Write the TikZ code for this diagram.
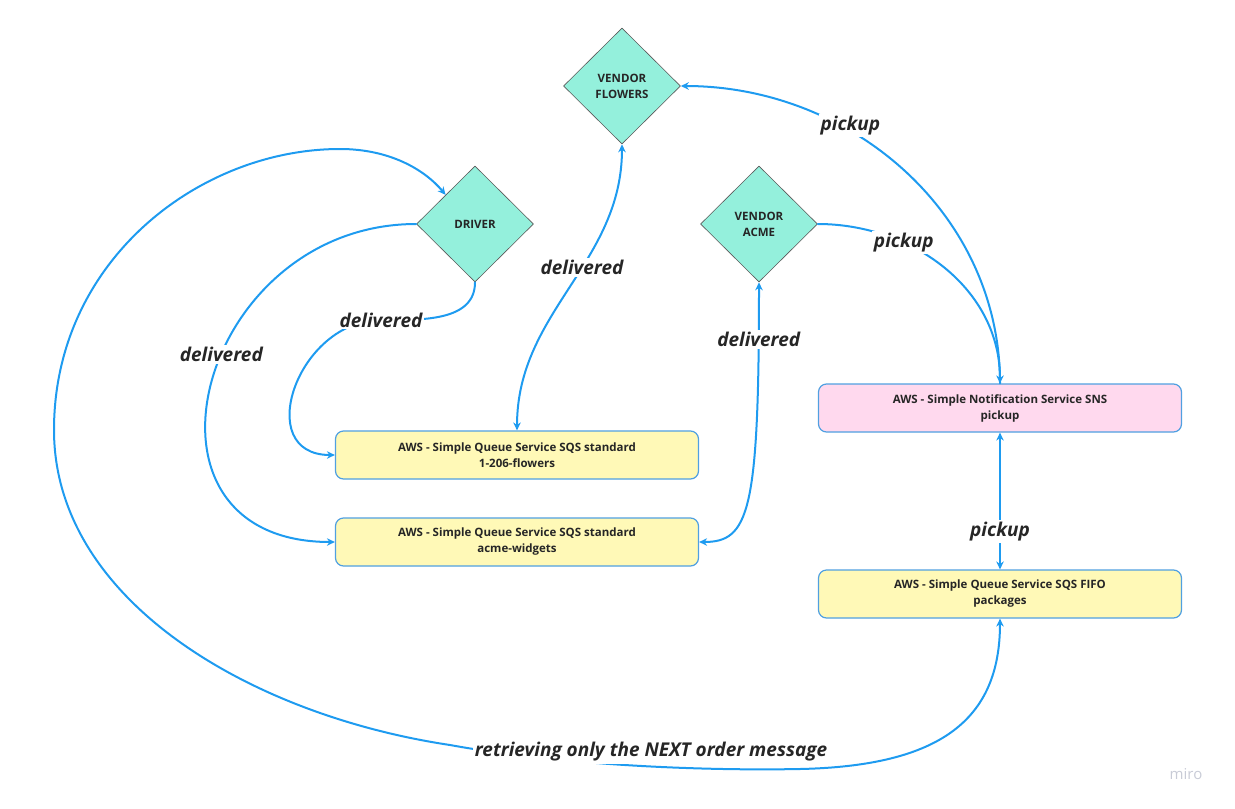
\documentclass[tikz,border=0pt]{standalone}
\usepackage{fontspec}
\setmainfont{Open Sans}
\usetikzlibrary{shapes.geometric,arrows.meta,positioning}
\definecolor{linkblue}{RGB}{30,155,240}
\definecolor{vendorgreen}{RGB}{148,240,220}
\definecolor{queueyellow}{RGB}{255,249,183}
\definecolor{snspink}{RGB}{255,217,238}
\definecolor{boxline}{RGB}{80,160,225}
\definecolor{inkgray}{RGB}{38,38,38}
\definecolor{mirogray}{RGB}{200,203,214}
\tikzset{
  actor/.style={diamond,draw=gray!70!black,line width=0.6,fill=vendorgreen,minimum width=117,minimum height=116,inner sep=0pt,align=center,text=inkgray,font=\fontsize{11.5}{16}\selectfont\bfseries},
  service/.style={rectangle,rounded corners=8,draw=boxline,line width=1.2,minimum width=363,minimum height=48,align=center,text=inkgray,font=\fontsize{11.5}{16}\selectfont\bfseries},
  link/.style={draw=linkblue,line width=2},
  lbl/.style={fill=white,inner sep=2pt,text=inkgray,font=\fontsize{19}{22}\selectfont\bfseries\itshape}
}
\begin{document}
\begin{tikzpicture}[x=1pt,y=1pt,>={Stealth[length=8pt,width=7.5pt]},line join=round,line cap=round]
\useasboundingbox (0,0) rectangle (1235,-809);
% actors
\node[actor] (flowers) at (622,-86) {VENDOR\\FLOWERS};
\node[actor] (driver) at (475,-224) {DRIVER};
\node[actor] (acme) at (759,-224) {VENDOR\\ACME};
% queues and topic
\node[service,fill=queueyellow] (qflowers) at (517,-455) {AWS - Simple Queue Service SQS standard\\1-206-flowers};
\node[service,fill=queueyellow] (qwidgets) at (517,-542) {AWS - Simple Queue Service SQS standard\\acme-widgets};
\node[service,fill=snspink] (sns) at (1000,-408) {AWS - Simple Notification Service SNS\\pickup};
\node[service,fill=queueyellow] (fifo) at (1000,-594) {AWS - Simple Queue Service SQS FIFO\\packages};
% pickup
\draw[link,->] (sns.north) to[out=90,in=0] node[lbl,pos=0.64,yshift=6]{pickup} (flowers.east);
\draw[link,->] (acme.east) to[out=0,in=90] node[lbl,pos=0.32]{pickup} (sns.north);
\draw[link,<->] (sns.south) -- node[lbl,pos=0.72]{pickup} (fifo.north);
% delivered
\draw[link,<->] (flowers.south) to[out=-90,in=90] node[lbl,pos=0.42]{delivered} (qflowers.north);
\draw[link,<->] (acme.south) .. controls +(0,-230) and +(50,0) .. node[lbl,pos=0.09]{delivered} (qwidgets.east);
\draw[link,->] (driver.west) to[out=180,in=180,looseness=1.7] node[lbl,pos=0.44]{delivered} (qwidgets.west);
\draw[link,->] (driver.south) to[out=-90,in=0] (381,-320) node[lbl]{delivered} to[out=180,in=180,looseness=1.5] (qflowers.west);
% next order
\draw[link,<->] (fifo.south) .. controls (1000,-720) and (940,-766) .. (800,-769) .. controls (700,-771) and (560,-765) .. (450,-745) .. controls (250,-715) and (54,-600) .. (54,-430) .. controls (54,-260) and (200,-149) .. (340,-149) .. controls (390,-149) and (425,-170) .. (driver.north west);
\node[lbl] (next) at (651,-752) {retrieving only the NEXT order message};
\node[text=mirogray,font=\fontsize{15}{15}\selectfont] (miro) at (1186,-774) {miro};
\end{tikzpicture}
\end{document}
